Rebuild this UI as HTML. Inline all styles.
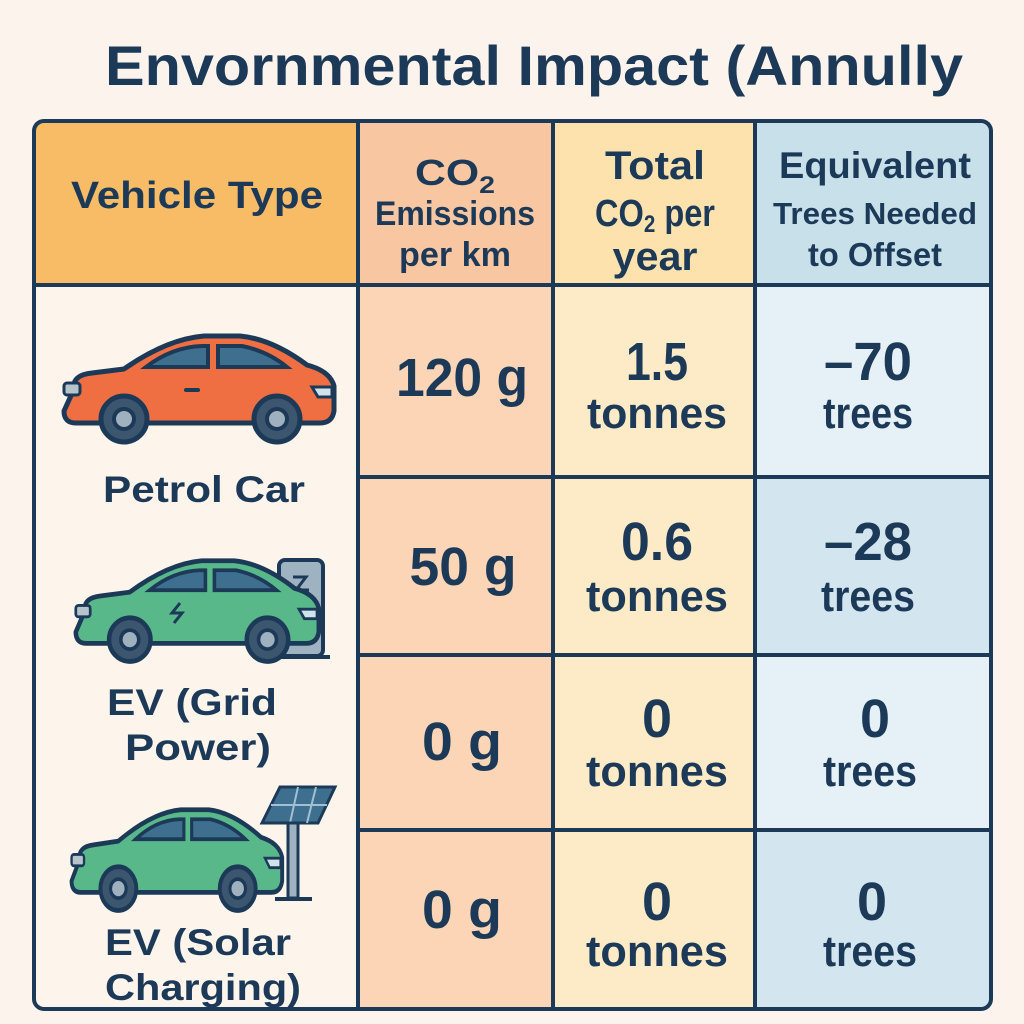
<!DOCTYPE html>
<html><head><meta charset="utf-8"><style>
html,body{margin:0;padding:0;background:#fcf4ec;}
svg{display:block;}
text{font-family:"Liberation Sans",sans-serif;font-weight:bold;fill:#1c3a58;}
</style></head><body>
<svg width="1024" height="1024" viewBox="0 0 1024 1024" xmlns="http://www.w3.org/2000/svg">
<defs>
<g id="car">
  <path d="M12,58 Q10,44 30,42 L62,38 Q105,8 142,5 L178,5 Q210,8 245,34 Q268,40 272,55 L272,80 Q270,92 258,92 L14,92 Q2,92 2,80 Z" stroke="#1c3a58" stroke-width="5" stroke-linejoin="round"/>
  <path d="M84,36 Q110,16 140,15 L146,15 L146,36 Z" fill="#3f6f8e" stroke="#1c3a58" stroke-width="4"/>
  <path d="M156,15 L180,15 Q205,20 225,36 L156,36 Z" fill="#3f6f8e" stroke="#1c3a58" stroke-width="4"/>
  <rect x="2" y="52" width="16" height="12" rx="3" fill="#b8c4cc" stroke="#1c3a58" stroke-width="3"/>
  <path d="M250,56 L270,56 L270,66 L256,66 Z" fill="#cfe3ec" stroke="#1c3a58" stroke-width="3"/>
  <circle cx="62" cy="88" r="23" fill="#3c5670" stroke="#1c3a58" stroke-width="5"/>
  <circle cx="62" cy="88" r="10" fill="#9fb0be" stroke="#1c3a58" stroke-width="4"/>
  <circle cx="215" cy="88" r="23" fill="#3c5670" stroke="#1c3a58" stroke-width="5"/>
  <circle cx="215" cy="88" r="10" fill="#9fb0be" stroke="#1c3a58" stroke-width="4"/>
</g>
</defs>
<rect width="1024" height="1024" fill="#fcf4ec"/>
<text x="105" y="85" font-size="56" textLength="858" lengthAdjust="spacingAndGlyphs">Envornmental Impact (Annully</text>

<rect x="35" y="122" width="323" height="163" fill="#f8bb66"/>
<rect x="358" y="122" width="195" height="163" fill="#f8c6a0"/>
<rect x="553" y="122" width="202" height="163" fill="#fde2ae"/>
<rect x="755" y="122" width="235" height="163" fill="#c8e0ea"/>
<rect x="35" y="285" width="323" height="723" fill="#fdf4ec"/>
<rect x="358" y="285" width="195" height="723" fill="#fbd5b6"/>
<rect x="553" y="285" width="202" height="723" fill="#fdeac6"/>
<rect x="755" y="285" width="235" height="192" fill="#e5f0f7"/>
<rect x="755" y="477" width="235" height="178" fill="#d3e6f0"/>
<rect x="755" y="655" width="235" height="175" fill="#e5f0f7"/>
<rect x="755" y="830" width="235" height="178" fill="#d3e6f0"/>

<g stroke="#1c3a58" fill="none">
<rect x="34" y="121" width="957" height="888" rx="10" stroke-width="4"/>
<line x1="34" y1="285" x2="991" y2="285" stroke-width="4"/>
<line x1="358" y1="121" x2="358" y2="1009" stroke-width="4"/>
<line x1="553" y1="121" x2="553" y2="1009" stroke-width="4"/>
<line x1="755" y1="121" x2="755" y2="1009" stroke-width="4"/>
<line x1="358" y1="477" x2="991" y2="477" stroke-width="4"/>
<line x1="358" y1="655" x2="991" y2="655" stroke-width="4"/>
<line x1="358" y1="830" x2="991" y2="830" stroke-width="4"/>
</g>

<text x="197" y="208" font-size="38" text-anchor="middle" textLength="252" lengthAdjust="spacingAndGlyphs">Vehicle Type</text>
<text x="455" y="185" font-size="36" text-anchor="middle" textLength="80" lengthAdjust="spacingAndGlyphs">CO<tspan font-size="24" dy="8">2</tspan></text>
<text x="455" y="225" font-size="34" text-anchor="middle" textLength="160" lengthAdjust="spacingAndGlyphs">Emissions</text>
<text x="455" y="266" font-size="34" text-anchor="middle" textLength="112" lengthAdjust="spacingAndGlyphs">per km</text>
<text x="655" y="179" font-size="40" text-anchor="middle" textLength="100" lengthAdjust="spacingAndGlyphs">Total</text>
<text x="655" y="226" font-size="38" text-anchor="middle" textLength="120" lengthAdjust="spacingAndGlyphs">CO<tspan font-size="24" dy="6">2</tspan><tspan dy="-6"> per</tspan></text>
<text x="655" y="270" font-size="40" text-anchor="middle" textLength="85" lengthAdjust="spacingAndGlyphs">year</text>
<text x="875" y="178" font-size="37" text-anchor="middle" textLength="192" lengthAdjust="spacingAndGlyphs">Equivalent</text>
<text x="875" y="224" font-size="31" text-anchor="middle" textLength="204" lengthAdjust="spacingAndGlyphs">Trees Needed</text>
<text x="875" y="266" font-size="33" text-anchor="middle" textLength="134" lengthAdjust="spacingAndGlyphs">to Offset</text>

<g text-anchor="middle">
<text x="462" y="396" font-size="54" textLength="132" lengthAdjust="spacingAndGlyphs">120 g</text>
<text x="657" y="380" font-size="54" textLength="62" lengthAdjust="spacingAndGlyphs">1.5</text>
<text x="657" y="428" font-size="44" textLength="140" lengthAdjust="spacingAndGlyphs">tonnes</text>
<text x="868" y="380" font-size="54" textLength="88" lengthAdjust="spacingAndGlyphs">–70</text>
<text x="868" y="428" font-size="44" textLength="90" lengthAdjust="spacingAndGlyphs">trees</text>

<text x="463" y="585" font-size="54" textLength="107" lengthAdjust="spacingAndGlyphs">50 g</text>
<text x="657" y="560" font-size="54" textLength="72" lengthAdjust="spacingAndGlyphs">0.6</text>
<text x="657" y="611" font-size="44" textLength="142" lengthAdjust="spacingAndGlyphs">tonnes</text>
<text x="868" y="560" font-size="54" textLength="88" lengthAdjust="spacingAndGlyphs">–28</text>
<text x="868" y="611" font-size="44" textLength="94" lengthAdjust="spacingAndGlyphs">trees</text>

<text x="462" y="760" font-size="54" textLength="80" lengthAdjust="spacingAndGlyphs">0 g</text>
<text x="657" y="737" font-size="54">0</text>
<text x="657" y="786" font-size="44" textLength="142" lengthAdjust="spacingAndGlyphs">tonnes</text>
<text x="875" y="737" font-size="54">0</text>
<text x="870" y="786" font-size="44" textLength="94" lengthAdjust="spacingAndGlyphs">trees</text>

<text x="462" y="928" font-size="54" textLength="80" lengthAdjust="spacingAndGlyphs">0 g</text>
<text x="657" y="920" font-size="54">0</text>
<text x="657" y="966" font-size="44" textLength="142" lengthAdjust="spacingAndGlyphs">tonnes</text>
<text x="872" y="920" font-size="54">0</text>
<text x="870" y="966" font-size="44" textLength="94" lengthAdjust="spacingAndGlyphs">trees</text>

<text x="204" y="502" font-size="37" textLength="202" lengthAdjust="spacingAndGlyphs">Petrol Car</text>
<text x="192" y="715" font-size="37" textLength="170" lengthAdjust="spacingAndGlyphs">EV (Grid</text>
<text x="198" y="760" font-size="37" textLength="146" lengthAdjust="spacingAndGlyphs">Power)</text>
<text x="198" y="955" font-size="37" textLength="186" lengthAdjust="spacingAndGlyphs">EV (Solar</text>
<text x="203" y="1000" font-size="37" textLength="196" lengthAdjust="spacingAndGlyphs">Charging)</text>
</g>

<use href="#car" transform="translate(62,331)" fill="#ef6f43"/>
<rect x="184" y="388" width="16" height="4" rx="2" fill="#1c3a58"/>

<rect x="279" y="560" width="44" height="96" rx="6" fill="#9fb2c2" stroke="#1c3a58" stroke-width="4"/>
<path d="M293,577 L306,577 L296,590 L309,590" stroke="#1c3a58" stroke-width="3" fill="none"/>
<path d="M300,602 L300,630 Q298,638 290,638 L270,640" stroke="#1c3a58" stroke-width="4" fill="none"/>
<line x1="270" y1="657" x2="330" y2="657" stroke="#1c3a58" stroke-width="4"/>
<use href="#car" transform="translate(74,556) scale(0.9,0.95)" fill="#58b88a"/>
<path d="M180,603 L172,613 L182,613 L174,623" stroke="#1c3a58" stroke-width="3" fill="none"/>

<path d="M262,823 L280,787 L335,787 L318,823 Z" fill="#3f6f8e" stroke="#1c3a58" stroke-width="3"/>
<path d="M271,805 L327,805 M298,787 L290,823 M316,787 L307,823" stroke="#9fc0d6" stroke-width="2"/>
<rect x="288" y="823" width="10" height="75" fill="#9fb2c2" stroke="#1c3a58" stroke-width="3"/>
<line x1="275" y1="899" x2="312" y2="899" stroke="#1c3a58" stroke-width="4"/>
<use href="#car" transform="translate(70,805) scale(0.78,0.95)" fill="#58b88a"/>
</svg>
</body></html>
